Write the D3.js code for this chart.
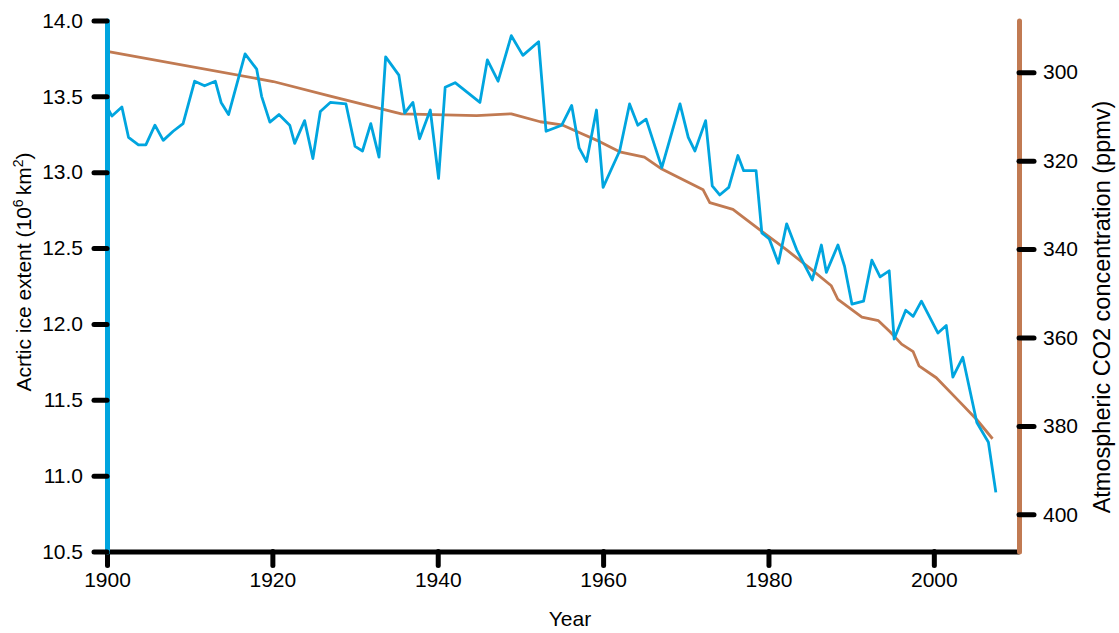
<!DOCTYPE html>
<html>
<head>
    <title>Arctic ice and CO2</title>
    <script src="https://d3js.org/d3.v7.min.js"></script>
    <style type="text/css">
        body { margin: 0; background: #ffffff; }
        svg { font-family: "Liberation Sans", Arial, sans-serif; }
        .tick text { font-size: 21px; fill: #000; }
        .tick line { stroke: #000; stroke-width: 5; stroke-linecap: round; }
        .title { font-size: 21px; fill: #000; }
    </style>
</head>
<body>
<div id="chart"></div>
<script>
// values
var iceYears = [1900.2, 1900.6, 1901.8, 1902.6, 1903.8, 1904.7, 1905.8, 1906.8, 1908.0, 1909.2,
    1910.6, 1911.8, 1913.1, 1913.8, 1914.7, 1916.7, 1918.1, 1918.7, 1919.7, 1920.8,
    1922.1, 1922.7, 1923.9, 1924.9, 1925.8, 1927.0, 1928.9, 1930.0, 1930.9, 1931.9,
    1932.9, 1933.7, 1935.3, 1936.0, 1937.0, 1937.8, 1939.1, 1940.1, 1940.9, 1942.1,
    1945.1, 1946.0, 1947.3, 1948.9, 1950.3, 1952.2, 1953.1, 1955.0, 1956.2, 1957.1,
    1958.0, 1959.2, 1960.0, 1962.0, 1963.2, 1964.2, 1965.2, 1967.1, 1969.3, 1970.3,
    1971.1, 1972.4, 1973.2, 1974.1, 1975.2, 1976.3, 1977.0, 1978.5, 1979.2, 1980.1,
    1981.2, 1982.2, 1983.4, 1985.3, 1986.4, 1987.0, 1988.4, 1989.2, 1990.1, 1991.5,
    1992.5, 1993.5, 1994.6, 1995.2, 1996.6, 1997.5, 1998.5, 2000.5, 2001.5, 2002.3,
    2003.5, 2005.2, 2006.6, 2007.5]
var iceExtent = [13.41, 13.37, 13.43, 13.23, 13.18, 13.18, 13.31, 13.21, 13.27, 13.32,
    13.60, 13.57, 13.60, 13.46, 13.38, 13.78, 13.68, 13.50, 13.33, 13.38,
    13.31, 13.19, 13.34, 13.09, 13.40, 13.46, 13.45, 13.17, 13.14, 13.32,
    13.10, 13.76, 13.64, 13.39, 13.46, 13.22, 13.41, 12.96, 13.56, 13.59,
    13.46, 13.74, 13.60, 13.90, 13.77, 13.86, 13.27, 13.31, 13.44, 13.16,
    13.07, 13.41, 12.90, 13.14, 13.45, 13.31, 13.35, 13.03, 13.45, 13.23,
    13.14, 13.34, 12.91, 12.85, 12.90, 13.11, 13.01, 13.01, 12.60, 12.56,
    12.40, 12.66, 12.49, 12.29, 12.52, 12.34, 12.52, 12.38, 12.13, 12.15,
    12.42, 12.31, 12.35, 11.90, 12.09, 12.05, 12.15, 11.94, 11.99, 11.65,
    11.78, 11.35, 11.22, 10.89]

var co2Years = [1900.0, 1920.1, 1927.0, 1935.6, 1944.7, 1948.9, 1952.4, 1955.0, 1957.3, 1959.6,
    1962.0, 1965.0, 1967.1, 1968.9, 1972.1, 1972.9, 1975.7, 1979.0, 1982.2, 1985.0,
    1987.6, 1988.4, 1991.3, 1993.3, 1994.7, 1996.1, 1997.5, 1998.2, 2000.3, 2003.1,
    2005.2, 2007.1]
var co2Ppmv = [295.3, 302.1, 305.4, 309.4, 309.8, 309.4, 311.2, 311.9, 313.8, 315.7,
    318.0, 319.2, 321.9, 323.6, 326.6, 329.5, 331.0, 335.7, 340.2, 344.3,
    348.3, 351.4, 355.4, 356.2, 358.7, 361.5, 363.2, 366.4, 369.1, 374.5,
    378.6, 382.9]

var yearTicks = [1900, 1920, 1940, 1960, 1980, 2000]
var iceTicks = [10.5, 11.0, 11.5, 12.0, 12.5, 13.0, 13.5, 14.0]
var co2Ticks = [300, 320, 340, 360, 380, 400]

function draw() {
    var W = 1119, H = 633
    var plotL = 107, plotR = 1019, plotT = 20.5, plotB = 551.5
    var blue = "#00a5df", brown = "#c17a52"

    var svg = d3.select("#chart").append("svg")
        .attr("width", W)
        .attr("height", H)

    var x = d3.scaleLinear().domain([1900, 2010.3]).range([plotL, plotR])
    var yIce = d3.scaleLinear().domain([10.5, 14.0]).range([plotB, plotT])
    var yCo2 = d3.scaleLinear().domain([288.3, 408.4]).range([plotT, plotB])

    var iceLine = d3.line()
        .x(function(d, i) { return x(iceYears[i]) })
        .y(function(d) { return yIce(d) })
    var co2Line = d3.line()
        .x(function(d, i) { return x(co2Years[i]) })
        .y(function(d) { return yCo2(d) })

    svg.append("path")
        .datum(co2Ppmv)
        .attr("d", co2Line)
        .attr("fill", "none")
        .attr("stroke", brown)
        .attr("stroke-width", 2.8)
        .attr("stroke-linejoin", "round")

    svg.append("path")
        .datum(iceExtent)
        .attr("d", iceLine)
        .attr("fill", "none")
        .attr("stroke", blue)
        .attr("stroke-width", 2.8)
        .attr("stroke-linejoin", "round")

    // axes
    var gx = svg.append("g")
        .attr("transform", "translate(0," + plotB + ")")
        .call(d3.axisBottom(x).tickValues(yearTicks).tickFormat(d3.format("d"))
            .tickSize(14).tickSizeOuter(0).tickPadding(7))
    gx.select(".domain").attr("stroke", "#000").attr("stroke-width", 5)

    var gl = svg.append("g")
        .attr("transform", "translate(" + plotL + ",0)")
        .call(d3.axisLeft(yIce).tickValues(iceTicks).tickFormat(d3.format(".1f"))
            .tickSize(13).tickSizeOuter(0).tickPadding(11))
    gl.select(".domain").attr("stroke", blue).attr("stroke-width", 5).attr("stroke-linecap", "round")

    var gr = svg.append("g")
        .attr("transform", "translate(" + plotR + ",0)")
        .call(d3.axisRight(yCo2).tickValues(co2Ticks)
            .tickSize(15).tickSizeOuter(0).tickPadding(9))
    gr.select(".domain").attr("stroke", brown).attr("stroke-width", 5).attr("stroke-linecap", "round")

    svg.selectAll("g").attr("font-family", null).attr("font-size", null)

    // titles
    svg.append("text")
        .attr("class", "title")
        .attr("x", 570)
        .attr("y", 626)
        .attr("text-anchor", "middle")
        .text("Year")

    var lt = svg.append("text")
        .attr("class", "title")
        .attr("text-anchor", "middle")
        .attr("transform", "translate(31,272) rotate(-90)")
    lt.append("tspan").text("Acrtic ice extent (10")
    lt.append("tspan").attr("font-size", 14).attr("dy", -8).text("6")
    lt.append("tspan").attr("dy", 8).text("\u2009km")
    lt.append("tspan").attr("font-size", 14).attr("dy", -8).text("2")
    lt.append("tspan").attr("dy", 8).text(")")

    svg.append("text")
        .attr("class", "title")
        .style("font-size", "23.5px")
        .attr("text-anchor", "middle")
        .attr("transform", "translate(1110,307) rotate(-90)")
        .text("Atmospheric CO2 concentration (ppmv)")
}

draw()
</script>
</body>
</html>
